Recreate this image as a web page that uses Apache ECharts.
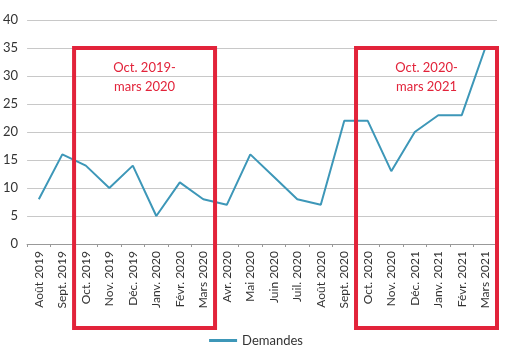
<!DOCTYPE html>
<html>
<head>
<meta charset="utf-8">
<script src="https://cdn.jsdelivr.net/npm/echarts@6/dist/echarts.min.js"></script>
<style>
  html, body { margin: 0; padding: 0; background: #fff; }
  #chart { width: 512px; height: 353px; }
</style>
</head>
<body>
<div id="chart"></div>
<script>
// mois (libellés tels quels, y compris "Déc. 2021")
const months = [
  'Août 2019', 'Sept. 2019', 'Oct. 2019', 'Nov. 2019', 'Déc. 2019',
  'Janv. 2020', 'Févr. 2020', 'Mars 2020', 'Avr. 2020', 'Mai 2020',
  'Juin 2020', 'Juil. 2020', 'Août 2020', 'Sept. 2020', 'Oct. 2020',
  'Nov. 2020', 'Déc. 2021', 'Janv. 2021', 'Févr. 2021', 'Mars 2021'
]
// demandes par mois
const demandes = [8, 16, 14, 10, 14, 5, 11, 8, 7, 16, 12, 8, 7, 22, 22, 13, 20, 23, 23, 35]
// périodes encadrées en rouge : [premier mois, dernier mois, texte]
const periods = [
  ['Oct. 2019', 'Mars 2020', 'Oct. 2019-\nmars 2020'],
  ['Oct. 2020', 'Mars 2021', 'Oct. 2020-\nmars 2021']
]
const boxTop = 35

const font = 'Lato, "Open Sans", sans-serif'
const red = '#e2233a'

const chart = echarts.init(document.getElementById('chart'))
chart.setOption({
  animation: false,
  textStyle: { fontFamily: font },
  grid: { left: 25, right: 15, top: 20, bottom: 109 },
  legend: {
    bottom: 1,
    left: 'center',
    icon: 'rect',
    itemWidth: 28,
    itemHeight: 3,
    textStyle: { fontSize: 13, color: '#333', fontFamily: font },
    data: ['Demandes']
  },
  xAxis: {
    type: 'category',
    data: months,
    boundaryGap: true,
    axisLine: { lineStyle: { color: '#999' } },
    axisTick: { show: true, length: 3, lineStyle: { color: '#999' } },
    axisLabel: { rotate: 90, fontSize: 12, color: '#333', margin: 7, interval: 0, fontFamily: font }
  },
  yAxis: {
    type: 'value',
    min: 0,
    max: 40,
    interval: 5,
    axisLabel: { fontSize: 13, color: '#333', margin: 9, fontFamily: font },
    splitLine: { lineStyle: { color: '#c8c8c8', width: 1 } }
  },
  series: [{
    name: 'Demandes',
    type: 'line',
    data: demandes,
    symbol: 'none',
    lineStyle: { color: '#3d97b8', width: 2 },
    itemStyle: { color: '#3d97b8' }
  }]
})

// cadres rouges calés sur les axes
const band = (chart.convertToPixel({ xAxisIndex: 0 }, months[1]) - chart.convertToPixel({ xAxisIndex: 0 }, months[0]))
const yTop = chart.convertToPixel({ yAxisIndex: 0 }, boxTop)
const yBottom = chart.convertToPixel({ yAxisIndex: 0 }, 0) + 84
const graphics = []
periods.forEach(p => {
  const x1 = chart.convertToPixel({ xAxisIndex: 0 }, p[0]) - band / 2
  const x2 = chart.convertToPixel({ xAxisIndex: 0 }, p[1]) + band / 2
  graphics.push({
    type: 'rect',
    shape: { x: x1, y: yTop, width: x2 - x1, height: yBottom - yTop },
    style: { fill: 'none', stroke: red, lineWidth: 4 },
    z: 100
  })
  graphics.push({
    type: 'text',
    x: (x1 + x2) / 2,
    y: yTop + 10,
    style: {
      text: p[2],
      fill: red,
      font: '13px ' + font,
      align: 'center',
      verticalAlign: 'top',
      lineHeight: 19
    },
    z: 101
  })
})
chart.setOption({ graphic: graphics })
</script>
</body>
</html>
